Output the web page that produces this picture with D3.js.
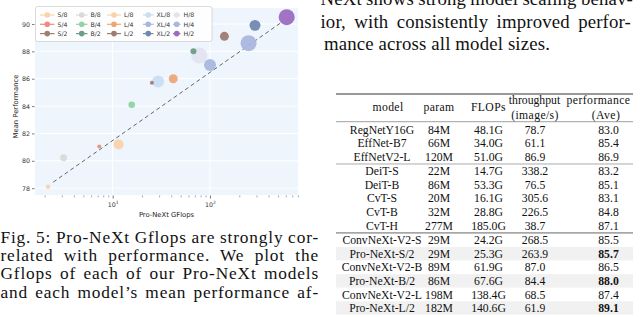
<!DOCTYPE html>
<html><head><meta charset="utf-8">
<script src="https://cdn.jsdelivr.net/npm/d3@7"></script>
<style>body{margin:0;background:#fff;overflow:hidden} svg{display:block}</style>
</head><body>
<svg id="c" width="640" height="317"></svg>
<script>
// ---------- chart data ----------
const models = ["S/8","S/4","S/2","B/8","B/4","B/2","L/8","L/4","L/2","XL/8","XL/4","XL/2","H/8","H/4","H/2"];
const gflops = [2.17,7.28,25.3,3.13,15.7,67.6,11.5,41.9,140.6,29.3,100,290,77.6,249,614];
const perf   = [78.1,81.05,85.7,80.22,84.1,88.0,81.2,86.0,89.1,85.8,87.0,89.9,87.7,88.6,90.5];
const bubble = [5,4,4,12,11,9,25,20,20,36,36,30,64,64,64];
const colors = ["#f9d2ab","#ee8c84","#a07e72","#d9d9d9","#94d2a3","#6e9c86","#f9d2ab","#eda678","#9e7c70","#c8def2","#a7b7df","#7189b0","#e1e4f1","#aab6de","#9b6cc2"];
const trendGflops = [2.45,525];
const trendPerf = [78.44,90.05];
const yTicks = [78,80,82,84,86,88,90];
const xTicks = [10,100];
const xMinor = [2,3,4,5,6,7,8,9,20,30,40,50,60,70,80,90,200,300,400,500,600,700,800];

// ---------- table data ----------
const tModel = ["RegNetY16G","EffNet-B7","EffNetV2-L","DeiT-S","DeiT-B","CvT-S","CvT-B","CvT-H","ConvNeXt-V2-S","Pro-NeXt-S/2","ConvNeXt-V2-B","Pro-NeXt-B/2","ConvNeXt-V2-L","Pro-NeXt-L/2"];
const tParam = ["84M","66M","120M","22M","86M","20M","32M","277M","29M","29M","89M","86M","198M","182M"];
const tFlops = ["48.1G","34.0G","51.0G","14.7G","53.3G","16.1G","28.8G","185.0G","24.2G","25.3G","61.9G","67.6G","138.4G","140.6G"];
const tThru  = ["78.7","61.1","86.9","338.2","76.5","305.6","226.5","38.7","268.5","263.9","87.0","84.4","68.5","61.9"];
const tPerf  = ["83.0","85.4","86.9","83.2","85.1","83.1","84.8","87.1","85.5","85.7","86.5","88.0","87.4","89.1"];
const tGroup = [0,0,0,1,1,1,1,1,2,2,2,2,2,2];
const tOurs  = [0,0,0,0,0,0,0,0,0,1,0,1,0,1];

// ---------- text ----------
const captionLines = ["Fig. 5: Pro-NeXt Gflops are strongly cor-","related with performance. We plot the","Gflops of each of our Pro-NeXt models","and each model\u2019s mean performance af-"];
const rightLines = ["NeXt shows strong model scaling behav-","ior, with consistently improved perfor-","mance across all model sizes."];

const svg = d3.select("#c");
const serif = "'Liberation Serif','DejaVu Serif',serif";
const sans = "'DejaVu Sans',sans-serif";

// ---------- chart ----------
const L=35, R=298, T=8, B=195;
const x = d3.scaleLog().domain([1.592,802]).range([L,R]);
const y = d3.scaleLinear().domain([77.5,91.17]).range([B,T]);
const r = d3.scaleSqrt().domain([0,64]).range([0,8]);

svg.append("rect").attr("x",L).attr("y",T).attr("width",R-L).attr("height",B-T).attr("fill","#eef5fd");
const g = svg.append("g");
g.selectAll(".hg").data(yTicks).join("line").attr("x1",L).attr("x2",R)
  .attr("y1",d=>y(d)).attr("y2",d=>y(d)).attr("stroke","#fff").attr("stroke-width",1);
g.selectAll(".vg").data(xTicks).join("line").attr("y1",T).attr("y2",B)
  .attr("x1",d=>x(d)).attr("x2",d=>x(d)).attr("stroke","#fff").attr("stroke-width",1);

// y axis
const yAxis = d3.axisLeft(y).tickValues(yTicks).tickSize(2.5).tickPadding(2).tickFormat(d3.format("d"));
const ya = svg.append("g").attr("transform",`translate(${L-0.5},0)`).call(yAxis);
ya.select(".domain").remove();
ya.selectAll("line").attr("stroke","#444").attr("stroke-width",0.7);
ya.selectAll("text").attr("font-family",sans).attr("font-size",6.3).attr("fill","#333");

// x axis major
const xAxis = d3.axisBottom(x).tickValues(xTicks).tickSize(3).tickPadding(3).tickFormat(()=> "");
const xa = svg.append("g").attr("transform",`translate(0,${B+0.5})`).call(xAxis);
xa.select(".domain").remove();
xa.selectAll("line").attr("stroke","#444").attr("stroke-width",0.7);
xa.selectAll(".tick").each(function(d){
  const t = d3.select(this).append("text").attr("y",11).attr("text-anchor","middle")
    .attr("font-family",sans).attr("font-size",6.3).attr("fill","#333");
  t.append("tspan").text("10");
  t.append("tspan").attr("dy",-2.5).attr("font-size",4.5).text(Math.round(Math.log10(d)));
});
const xm = d3.axisBottom(x).tickValues(xMinor).tickSize(1.8).tickFormat(()=> "");
const xma = svg.append("g").attr("transform",`translate(0,${B+0.5})`).call(xm);
xma.select(".domain").remove();
xma.selectAll("line").attr("stroke","#444").attr("stroke-width",0.5);

svg.append("text").attr("x",(L+R)/2).attr("y",216.5).attr("text-anchor","middle")
  .attr("font-family",sans).attr("font-size",6.8).attr("fill","#222").text("Pro-NeXt GFlops");
svg.append("text").attr("transform",`translate(17.5,${(T+B)/2+5}) rotate(-90)`).attr("text-anchor","middle")
  .attr("font-family",sans).attr("font-size",6.8).attr("fill","#222").text("Mean Performance");

// trend line
svg.append("line").attr("x1",x(trendGflops[0])).attr("y1",y(trendPerf[0]))
  .attr("x2",x(trendGflops[1])).attr("y2",y(trendPerf[1]))
  .attr("stroke","#666").attr("stroke-width",1).attr("stroke-dasharray","4,3");

// bubbles
const pts = models.map((m,i)=>({m,x:gflops[i],y:perf[i],s:bubble[i],c:colors[i]}));
pts.sort((a,b)=>b.s-a.s);
svg.append("g").selectAll("circle").data(pts).join("circle")
  .attr("cx",d=>x(d.x)).attr("cy",d=>y(d.y)).attr("r",d=>r(d.s))
  .attr("fill",d=>d.c).attr("fill-opacity",0.95);

// legend
const lg = svg.append("g");
lg.append("rect").attr("x",35.5).attr("y",6.5).attr("width",176.5).attr("height",35)
  .attr("rx",2).attr("fill","#fff").attr("fill-opacity",0.9).attr("stroke","#ccc").attr("stroke-width",0.7);
const colX = [40,76,107,143,173];
const textX = [57.5,90.5,124,156.5,183.5];
const rowY = [15,24.3,33.6];
models.forEach((m,i)=>{
  const c = Math.floor(i/3), rr = i%3;
  const lx = colX[c], ly = rowY[rr];
  const ex = textX[c]-3;
  lg.append("line").attr("x1",lx).attr("x2",ex).attr("y1",ly).attr("y2",ly).attr("stroke",colors[i]).attr("stroke-width",1.2);
  lg.append("circle").attr("cx",(lx+ex)/2).attr("cy",ly).attr("r",2.8).attr("fill",colors[i]);
  lg.append("text").attr("x",textX[c]).attr("y",ly+2.2).attr("font-family",sans).attr("font-size",6.2)
    .attr("fill","#333").text(m);
});

// ---------- justified text ----------
function justify(sel, target){
  const node = sel.node();
  const w = node.getComputedTextLength();
  const s = (sel.text().match(/ /g)||[]).length;
  if(s>0) sel.attr("word-spacing", (target-w)/s);
}
const capY = [242.7,261,279.3,297.6];
captionLines.forEach((t,i)=>{
  const tx = svg.append("text").attr("x",0.5).attr("y",capY[i]).attr("font-family",serif).attr("font-size",17.3)
    .attr("letter-spacing",0.85).attr("fill","#111").text(t);
  justify(tx,318.5);
});
const rY = [4.5,27.5,49.8];
rightLines.forEach((t,i)=>{
  const tx = svg.append("text").attr("x",i==2?324:320.5).attr("y",rY[i]).attr("font-family",serif).attr("font-size",18.8)
    .attr("letter-spacing",0.15).attr("fill","#111").text(t);
  if(i<2) justify(tx,i==0?312.5:310.5);
});

// ---------- table ----------
const tL=336, tR=633;
const cx = {model:382, param:439, flops:488.5, thru:535, perf:608.5};
const pitch = 13.55, gap = 1.2, y0 = 129.5;
const rowYt = i => y0 + i*pitch + tGroup[i]*gap;
const tf = 11.7;
tModel.forEach((m,i)=>{
  if(tOurs[i]) svg.append("rect").attr("x",tL).attr("y",rowYt(i)-6.8).attr("width",tR-tL).attr("height",13.4).attr("fill","#f1f1f1");
});
svg.append("line").attr("x1",tL).attr("x2",tR).attr("y1",94).attr("y2",94).attr("stroke","#777").attr("stroke-width",1.4);
svg.append("line").attr("x1",tL).attr("x2",tR).attr("y1",121.7).attr("y2",121.7).attr("stroke","#777").attr("stroke-width",0.7);
[3,8].forEach(k=>{
  const yy = (rowYt(k-1)+rowYt(k))/2;
  svg.append("line").attr("x1",tL).attr("x2",tR).attr("y1",yy).attr("y2",yy).attr("stroke",k==8?"#555":"#888").attr("stroke-width",k==8?0.9:0.7);
});
function tt(xx,yy,s,bold,ls){
  svg.append("text").attr("x",xx).attr("y",yy).attr("text-anchor","middle").attr("font-family",serif)
    .attr("font-size",tf).attr("font-weight",bold?"bold":"normal").attr("letter-spacing",ls||0).attr("fill","#111").text(s);
}
tt(388,111,"model",0,0.4); tt(cx.param,111,"param",0,0.4); tt(cx.flops,111,"FLOPs",0,0.4);
tt(534.5,104,"throughput",0,0); tt(cx.thru,118.5,"(image/s)",0,0.4);
tt(598.5,104,"performance",0,0.45); tt(606,118.5,"(Ave)",0,0.4);
tModel.forEach((m,i)=>{
  const yy = rowYt(i)+4;
  tt(cx.model,yy,m); tt(cx.param,yy,tParam[i]); tt(cx.flops,yy,tFlops[i]);
  tt(cx.thru,yy,tThru[i]); tt(cx.perf,yy,tPerf[i],tOurs[i]);
});
</script>
</body></html>
